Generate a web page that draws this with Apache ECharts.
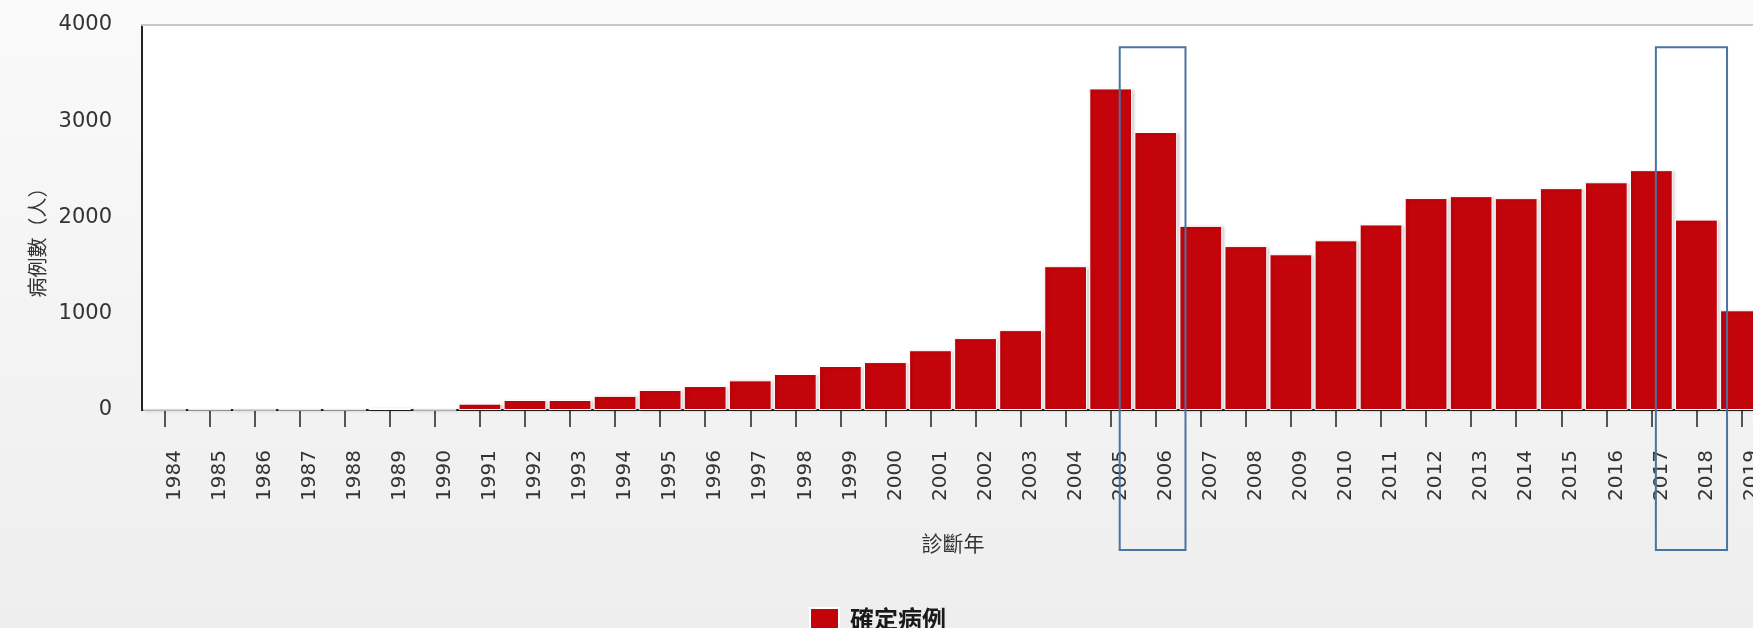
<!DOCTYPE html>
<html>
<head>
<meta charset="utf-8">
<script src="https://cdn.jsdelivr.net/npm/echarts@6/dist/echarts.min.js"></script>
<style>
html,body{margin:0;padding:0;overflow:hidden;width:1753px;height:628px;background:#f4f4f4;}
#main{width:1800px;height:628px;}
</style>
</head>
<body>
<div id="main"></div>
<script>
const years = ['1984','1985','1986','1987','1988','1989','1990','1991','1992','1993','1994','1995','1996','1997','1998','1999','2000','2001','2002','2003','2004','2005','2006','2007','2008','2009','2010','2011','2012','2013','2014','2015','2016','2017','2018','2019'];
const confirmedCases = [1,4,1,4,4,21,2,66,104,104,147,208,249,308,374,457,498,621,747,830,1494,3341,2888,1913,1703,1618,1763,1928,2202,2222,2201,2305,2366,2492,1978,1036];
const yTicks = {min:0, max:4000, interval:1000};
const seriesName = '確定病例';
const xAxisName = '診斷年';
const yAxisName = '病例數（人）';
// annotation boxes (category + fractional offset within category)
const highlightBoxes = [
  {from:'2005', fromOffset:0.2, to:'2006', toOffset:0.66},
  {from:'2017', fromOffset:0.1, to:'2018', toOffset:0.68}
];

const chart = echarts.init(document.getElementById('main'));
const fontFam = 'DejaVu Sans, "Noto Sans CJK TC", sans-serif';
const cjk = '"Noto Sans CJK TC", sans-serif';
const option = {
  animation:false,
  backgroundColor:{type:'linear',x:0,y:0,x2:0,y2:1,colorStops:[{offset:0,color:'#fafafa'},{offset:1,color:'#eeeeee'}]},
  grid:{left:142, top:25, width:1622, height:385, show:true, backgroundColor:'#ffffff', borderWidth:0},
  legend:{
    data:[seriesName], top:602, left:804,
    itemWidth:29, itemHeight:22, itemGap:10,
    icon:'rect',
    textStyle:{fontSize:24, fontWeight:'bold', color:'#1a1a1a', fontFamily:cjk, padding:[0,0,0,6]}
  },
  xAxis:[{
    type:'category', data:years, position:'bottom',
    name:xAxisName, nameLocation:'middle', nameGap:123,
    nameTextStyle:{fontSize:21, color:'#333', fontFamily:cjk},
    axisLine:{show:true, lineStyle:{color:'#222', width:2}},
    axisTick:{show:true, inside:false, interval:0, alignWithLabel:true, length:17, lineStyle:{color:'#222', width:1.5}},
    axisLabel:{rotate:90, margin:40, fontSize:20, color:'#333', fontFamily:fontFam, verticalAlign:'top', interval:0}
  },{
    type:'category', data:years, position:'top',
    axisLine:{lineStyle:{color:'#c8c8c8', width:2}},
    axisTick:{show:false}, axisLabel:{show:false}
  }],
  yAxis:{
    type:'value', min:yTicks.min, max:yTicks.max, interval:yTicks.interval,
    name:yAxisName, nameLocation:'middle', nameGap:83, nameRotate:90,
    nameTextStyle:{fontSize:20, color:'#333', fontFamily:cjk, padding:[0,40,0,0]},
    axisLine:{show:true, lineStyle:{color:'#222', width:2}},
    axisTick:{show:false},
    splitLine:{show:false},
    axisLabel:{fontSize:21, color:'#333', margin:30, fontFamily:fontFam, formatter:v => String(v)}
  },
  series:[{
    name:seriesName, type:'bar', data:confirmedCases, xAxisIndex:0,
    barCategoryGap:'5%',
    itemStyle:{color:'#c3040b', borderColor:'#ffffff', borderWidth:1,
      shadowColor:'rgba(0,0,0,0.18)', shadowBlur:3, shadowOffsetX:2, shadowOffsetY:1}
  }]
};
chart.setOption(option);

// annotation rectangles positioned through the axis scales
const catW = chart.convertToPixel({xAxisIndex:0}, years[1]) - chart.convertToPixel({xAxisIndex:0}, years[0]);
const topY = chart.convertToPixel({yAxisIndex:0}, 3770);
const baseY = chart.convertToPixel({yAxisIndex:0}, 0);
const graphics = highlightBoxes.map(b => {
  const x1 = chart.convertToPixel({xAxisIndex:0}, b.from) + b.fromOffset*catW;
  const x2 = chart.convertToPixel({xAxisIndex:0}, b.to) + b.toOffset*catW;
  return {type:'rect', shape:{x:x1, y:topY, width:x2-x1, height:(baseY+140)-topY},
    style:{fill:'none', stroke:'#4a73a1', lineWidth:2}, z:100};
});
chart.setOption({graphic:graphics});
</script>
</body>
</html>
